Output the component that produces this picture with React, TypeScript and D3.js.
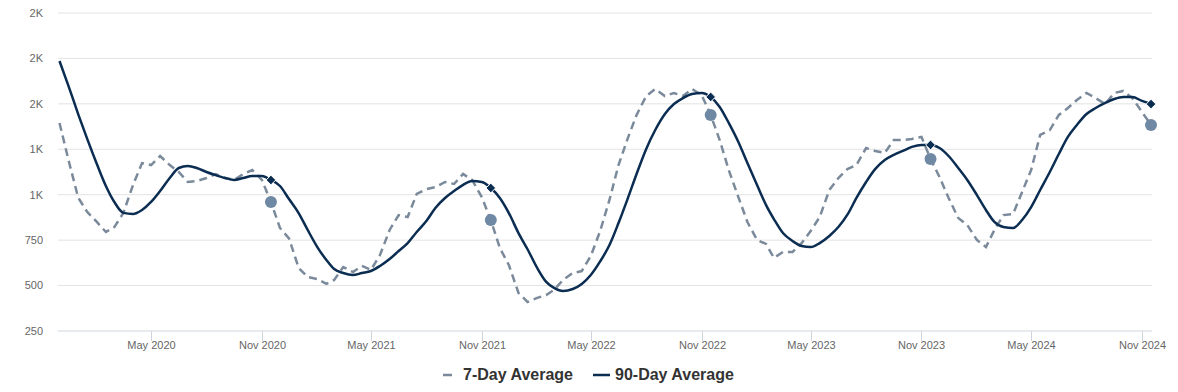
import React from "react";
import * as d3 from "d3";

// Semi-monthly observations (1st and 16th of each month), Dec 2019 – Nov 2024
const startMonth = "2019-12";
const monthCount = 60;

// 7-Day Average, two values per month (1st, 16th)
const sevenDay = [
  1395, 1190, // 2019-12
  984, 905, 850, 795, 822, 899, 1053, 1174, 1163, 1213, 1163, 1125, // 2020 Jan-Jun
  1070, 1075, 1092, 1114, 1092, 1081, 1114, 1136, 1081, 960, 817, 760, // 2020 Jul-Dec
  597, 547, 536, 509, 531, 602, 575, 608, 586, 668, 806, 888, // 2021 Jan-Jun
  877, 1004, 1031, 1042, 1070, 1059, 1114, 1081, 987, 861, 707, 613, // 2021 Jul-Dec
  459, 410, 432, 448, 476, 531, 569, 580, 663, 795, 971, 1163, // 2022 Jan-Jun
  1307, 1439, 1543, 1582, 1543, 1560, 1543, 1582, 1549, 1439, 1301, 1136, // 2022 Jul-Dec
  987, 850, 751, 729, 652, 685, 685, 734, 800, 877, 1026, 1092, // 2023 Jan-Jun
  1141, 1163, 1257, 1241, 1230, 1301, 1301, 1307, 1318, 1197, 1097, 982, // 2023 Jul-Dec
  872, 833, 751, 712, 806, 888, 894, 1015, 1136, 1329, 1356, 1439, // 2024 Jan-Jun
  1477, 1521, 1560, 1532, 1499, 1560, 1571, 1532, 1455, 1384, // 2024 Jul-Nov
];

// 90-Day Average, two values per month (1st, 16th)
const ninetyDay = [
  1736, 1598, // 2019-12
  1444, 1307, 1169, 1048, 960, 900, 894, 916, 960, 1020, 1092, 1147, // 2020 Jan-Jun
  1158, 1147, 1125, 1108, 1092, 1081, 1092, 1103, 1103, 1081, 1048, 976, // 2020 Jul-Dec
  899, 806, 712, 641, 591, 569, 558, 569, 580, 608, 646, 690, // 2021 Jan-Jun
  734, 795, 855, 927, 982, 1020, 1054, 1075, 1070, 1037, 982, 899, // 2021 Jul-Dec
  789, 700, 597, 520, 487, 470, 481, 509, 558, 630, 723, 844, // 2022 Jan-Jun
  976, 1114, 1252, 1356, 1444, 1499, 1532, 1554, 1560, 1538, 1483, 1395, // 2022 Jul-Dec
  1290, 1174, 1053, 943, 866, 789, 745, 718, 712, 734, 773, 822, // 2023 Jan-Jun
  890, 982, 1070, 1141, 1191, 1219, 1241, 1263, 1274, 1274, 1257, 1213, // 2023 Jul-Dec
  1147, 1081, 998, 916, 850, 822, 817, 861, 932, 1026, 1125, 1224, // 2024 Jan-Jun
  1318, 1384, 1444, 1477, 1505, 1527, 1538, 1538, 1516, 1499, // 2024 Jul-Nov
];

// Highlighted dates (one per year)
const markerDates = ["2020-11-16", "2021-11-16", "2022-11-16", "2023-11-16", "2024-11-16"];

const xTickDates = [
  "2020-05-01", "2020-11-01", "2021-05-01", "2021-11-01", "2022-05-01",
  "2022-11-01", "2023-05-01", "2023-11-01", "2024-05-01", "2024-11-01",
];
const yTicks = [250, 500, 750, 1000, 1250, 1500, 1750, 2000];

const seriesNames = ["7-Day Average", "90-Day Average"];

const W = 1178;
const H = 392;

const parse = d3.timeParse("%Y-%m-%d");
const parseMonth = d3.timeParse("%Y-%m");

const dates: Date[] = [];
for (let i = 0; i < monthCount; i++) {
  const m = d3.timeMonth.offset(parseMonth(startMonth) as Date, i);
  dates.push(m);
  dates.push(new Date(m.getFullYear(), m.getMonth(), 16));
}
const n = Math.min(sevenDay.length, ninetyDay.length);

type P = { d: Date; v: number };
const s7: P[] = sevenDay.slice(0, n).map((v, i) => ({ d: dates[i], v }));
const s90: P[] = ninetyDay.slice(0, n).map((v, i) => ({ d: dates[i], v }));

export default function App() {
  const x = d3
    .scaleTime()
    .domain([dates[0], dates[n - 1]])
    .range([59.5, 1151]);
  const y = d3.scaleLinear().domain([250, 2000]).range([331, 13]);

  const fmtY = (v: number) => (v < 1000 ? String(v) : Math.round(v / 1000) + "K");
  const fmtX = d3.timeFormat("%b %Y");

  const line7 = d3
    .line<P>()
    .x((p) => x(p.d))
    .y((p) => y(p.v))
    .curve(d3.curveLinear);
  const line90 = d3
    .line<P>()
    .x((p) => x(p.d))
    .y((p) => y(p.v))
    .curve(d3.curveMonotoneX);

  const markers = markerDates.map((s) => {
    const t = (parse(s) as Date).getTime();
    const i = dates.findIndex((d) => d.getTime() === t);
    return { d: dates[i], v7: sevenDay[i], v90: ninetyDay[i] };
  });

  const dashColor = "#7b8a9b";
  const solidColor = "#0b2d52";
  const circleColor = "#6f88a3";

  const font = "'Liberation Sans', Arial, Helvetica, sans-serif";

  return (
    <svg
      width={W}
      height={H}
      style={{ position: "absolute", left: 0, top: 0, background: "#fff" }}
      fontFamily={font}
    >
      {/* grid */}
      {yTicks.map((t) => (
        <g key={t}>
          <line
            x1={58}
            x2={1152}
            y1={y(t)}
            y2={y(t)}
            stroke={t === 250 ? "#cfd6de" : "#e3e3e3"}
            strokeWidth={1}
          />
          <text
            x={43}
            y={y(t)}
            dy="0.35em"
            textAnchor="end"
            fontSize={11}
            fill="#666"
          >
            {fmtY(t)}
          </text>
        </g>
      ))}
      {/* x ticks */}
      {xTickDates.map((s) => {
        const d = parse(s) as Date;
        const xx = Math.round(x(d)) + 0.5;
        return (
          <g key={s}>
            <line x1={xx} x2={xx} y1={331} y2={341} stroke="#cfd6de" />
            <text x={xx} y={349} textAnchor="middle" fontSize={11} fill="#666">
              {fmtX(d)}
            </text>
          </g>
        );
      })}

      {/* lines */}
      <path
        d={line7(s7) || ""}
        fill="none"
        stroke={dashColor}
        strokeWidth={2.5}
        strokeDasharray="8,5"
      />
      <path d={line90(s90) || ""} fill="none" stroke={solidColor} strokeWidth={2.5} />

      {/* markers */}
      {markers.map((m, i) => (
        <g key={i}>
          <circle cx={x(m.d)} cy={y(m.v7)} r={6} fill={circleColor} />
          <path
            d={d3.symbol(d3.symbolDiamond2, 60)() || ""}
            transform={`translate(${x(m.d)},${y(m.v90)})`}
            fill={solidColor}
            stroke="#fff"
            strokeWidth={1}
          />
        </g>
      ))}

      {/* legend */}
      <g>
        <line x1={443} x2={452} y1={375} y2={375} stroke={dashColor} strokeWidth={2.5} />
        <text x={463} y={380} fontSize={16} fontWeight="bold" fill="#333">
          {seriesNames[0]}
        </text>
        <line x1={593} x2={610} y1={375} y2={375} stroke={solidColor} strokeWidth={2.5} />
        <text x={615} y={380} fontSize={16} fontWeight="bold" fill="#333">
          {seriesNames[1]}
        </text>
      </g>
    </svg>
  );
}
